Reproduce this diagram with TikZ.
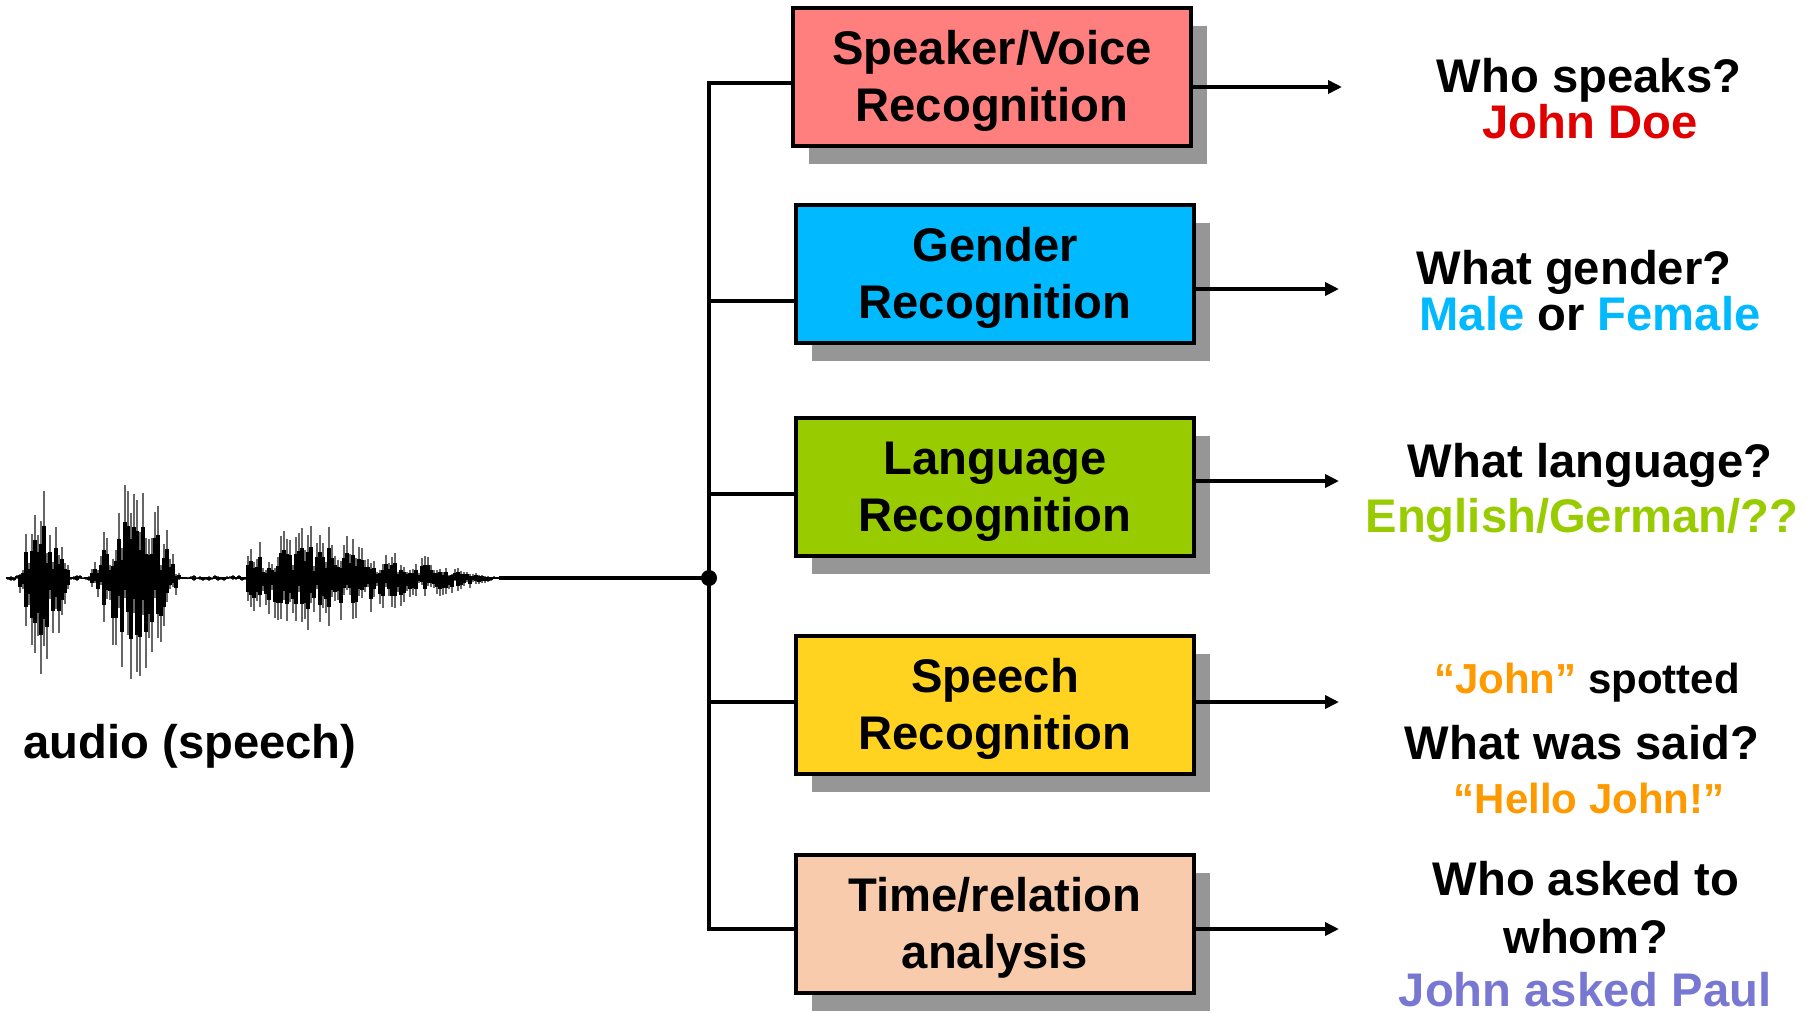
\documentclass[tikz,border=0pt]{standalone}
\usepackage{fontspec}
\setmainfont{Liberation Sans}
\usetikzlibrary{shadows,arrows.meta}
\definecolor{cSpk}{HTML}{FF7F7F}
\definecolor{cGen}{HTML}{00B9FF}
\definecolor{cLan}{HTML}{99CC00}
\definecolor{cSpe}{HTML}{FFD320}
\definecolor{cTim}{HTML}{F8CBAD}
\definecolor{cShd}{HTML}{969696}
\definecolor{tRed}{HTML}{E00000}
\definecolor{tCyan}{HTML}{00B9FF}
\definecolor{tGreen}{HTML}{99CC00}
\definecolor{tOrange}{HTML}{FF9900}
\definecolor{tPurple}{HTML}{7878D2}
\newcommand\boxstrut{\rule{0pt}{21pt}}
\begin{document}
\begin{tikzpicture}[x=0.5pt,y=-0.5pt,
 procbox/.style={draw=black, line width=2pt, minimum width=199pt, minimum height=69pt,
   align=center, inner sep=0pt, font=\fontsize{23.6}{28.5}\selectfont\bfseries,
   drop shadow={shadow xshift=8pt,shadow yshift=-9pt,opacity=1,fill=cShd}},
 qbig/.style={inner sep=0pt, text height=16.9pt, text depth=0pt, font=\fontsize{23.6}{28}\selectfont\bfseries},
 qsmall/.style={inner sep=0pt, text height=15pt, text depth=0pt, font=\fontsize{21}{25}\selectfont\bfseries},
 trunk/.style={line width=2.2pt, line cap=rect},
 arr/.style={line width=1.8pt, -{Triangle[length=7pt,width=6.5pt]}},
 waveouter/.style={line width=1.4pt, black!60},
 waveinner/.style={line width=1.6pt, black}]
\useasboundingbox (0,0) rectangle (1814,1012);

% waveform
\pgfmathsetseed{12}
\draw[line width=0.8pt, black!80] (6,578) -- (501,578);
\foreach \x in {8,11,...,497} {
  \pgfmathsetmacro\env{3 + (\x>17)*(\x<70)*95*sin((\x-17)/53*180) + (\x>90)*(\x<180)*105*sin((\x-90)/90*180) + (\x>245)*(\x<380)*50*(0.55+0.45*sin((\x-245)/135*180)) + (\x>=380)*(\x<495)*32*(495-\x)/115}
  \pgfmathsetmacro\up{\env*(0.15+0.85*rnd)}
  \pgfmathsetmacro\dn{\env*(0.15+0.85*rnd)}
  \draw[waveouter] (\x,578-\up) -- (\x,578+\dn);
  \draw[waveinner] (\x,578-0.6*\up) -- (\x,578+0.6*\dn);
}

\node[qbig] (aud) at (190,742) {audio (speech)};

% boxes
\node[procbox, fill=cSpk] (b1) at (992,77) {\boxstrut Speaker/Voice\\Recognition};
\node[procbox, fill=cGen] (b2) at (995,274) {\boxstrut Gender\\Recognition};
\node[procbox, fill=cLan] (b3) at (995,487) {\boxstrut Language\\Recognition};
\node[procbox, fill=cSpe] (b4) at (995,704.5) {\boxstrut Speech\\Recognition};
\node[procbox, fill=cTim] (b5) at (995,923.5) {\boxstrut Time/relation\\analysis};

% tree
\coordinate (wav) at (501,578);
\node[circle, fill=black, inner sep=0pt, minimum size=8pt] (J) at (709,578) {};
\coordinate (t1) at (709,83);
\coordinate (t2) at (709,301);
\coordinate (t3) at (709,494);
\coordinate (t4) at (709,702);
\coordinate (t5) at (709,929);
\draw[trunk] (wav) -- (J);
\draw[trunk] (t1) -- (t5);
\draw[trunk] (t1) -- (t1 -| b1.west);
\draw[trunk] (t2) -- (t2 -| b2.west);
\draw[trunk] (t3) -- (t3 -| b3.west);
\draw[trunk] (t4) -- (t4 -| b4.west);
\draw[trunk] (t5) -- (t5 -| b5.west);

% outputs
\coordinate (o1) at (1342,87);
\coordinate (o2) at (1339,289);
\coordinate (o3) at (1339,481);
\coordinate (o4) at (1339,702);
\coordinate (o5) at (1339,929);
\draw[arr] (o1 -| b1.east) -- (o1);
\draw[arr] (o2 -| b2.east) -- (o2);
\draw[arr] (o3 -| b3.east) -- (o3);
\draw[arr] (o4 -| b4.east) -- (o4);
\draw[arr] (o5 -| b5.east) -- (o5);

% answers
\node[qbig] (q1a) at (1589,76) {Who speaks?};
\node[qbig, text=tRed] (q1b) at (1590,121.5) {John Doe};
\node[qbig] (q2a) at (1574,268) {What gender?};
\node[qbig] (q2b) at (1590,313.5) {\textcolor{tCyan}{Male} or \textcolor{tCyan}{Female}};
\node[qbig] (q3a) at (1590,460.5) {What language?};
\node[qbig, text=tGreen] (q3b) at (1582,516) {English/German/??};
\node[qsmall] (q4a) at (1587,678) {\textcolor{tOrange}{“John”} spotted};
\node[qbig] (q4b) at (1582,743) {What was said?};
\node[qsmall, text=tOrange] (q4c) at (1589,798) {“Hello John!”};
\node[qbig] (q5a) at (1586,879) {Who asked to};
\node[qbig] (q5b) at (1586,937) {whom?};
\node[qbig, text=tPurple] (q5c) at (1585,990) {John asked Paul};
\end{tikzpicture}
\end{document}
